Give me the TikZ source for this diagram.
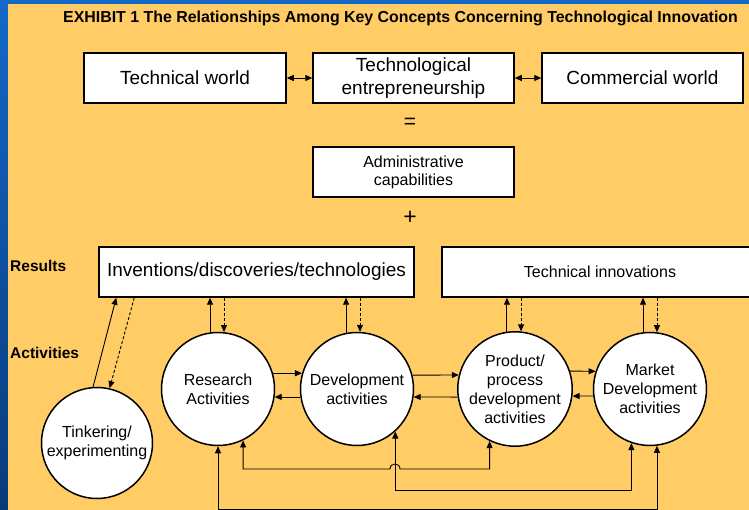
\documentclass[tikz,border=0pt]{standalone}
\usepackage{fontspec}
\setmainfont{Liberation Sans}
\usetikzlibrary{arrows.meta}
\definecolor{bgorange}{HTML}{FFCC66}
\definecolor{slidetop}{HTML}{1468C8}
\definecolor{slidebot}{HTML}{083A7A}
\tikzset{
  >={Triangle[length=7pt,width=6pt]},
  box/.style={draw, line width=1.5pt, fill=white, inner sep=0pt, align=center},
  circ/.style={circle, draw, line width=1.5pt, fill=white, inner sep=0pt, align=center,
    minimum size=113pt, font=\fontsize{16}{19}\selectfont},
  conn/.style={line width=0.9pt, black},
  dconn/.style={line width=0.9pt, black, dash pattern=on 3pt off 2pt},
  lbl/.style={font=\fontsize{15.5}{18}\selectfont\bfseries, anchor=base west, inner sep=0pt}
}
\begin{document}
\begin{tikzpicture}[x=1pt,y=-1pt]
\useasboundingbox (0,0) rectangle (749,510);
% background
\shade[top color=slidetop, bottom color=slidebot] (0,0) rectangle (749,510);
\fill[bgorange] (7.5,4) rectangle (749,510);

% title
\node[lbl, font=\fontsize{15.9}{18}\selectfont\bfseries] (title) at (63,23)
  {EXHIBIT 1 The Relationships Among Key Concepts Concerning Technological Innovation};

% top boxes
\node[box, minimum width=202pt, minimum height=50pt, font=\fontsize{19}{22}\selectfont] (tw) at (185,78) {Technical world};
\node[box, minimum width=201pt, minimum height=50pt, font=\fontsize{19}{22.5}\selectfont] (te) at (413.5,78) {Technological\\entrepreneurship};
\node[box, minimum width=201pt, minimum height=50pt, font=\fontsize{19}{22}\selectfont] (cw) at (642.5,78) {Commercial world};
\draw[conn,<->] (tw.east) -- (te.west);
\draw[conn,<->] (te.east) -- (cw.west);

\node[font=\fontsize{21}{21}\selectfont] (eq) at (410,123) {=};
\node[box, minimum width=201pt, minimum height=50pt, font=\fontsize{16}{18}\selectfont] (adm) at (413.5,172) {Administrative\\capabilities};
\node[font=\fontsize{23}{23}\selectfont] (plus) at (410,218) {+};

% row labels
\node[lbl] (res) at (10,272) {Results};
\node[lbl] (act) at (10,358) {Activities};

% result boxes
\node[box, minimum width=315pt, minimum height=50pt, font=\fontsize{19}{22}\selectfont] (inv) at (256.5,272) {Inventions/discoveries/technologies};
\node[box, minimum width=316pt, minimum height=50pt, font=\fontsize{16}{19}\selectfont] (ti) at (600,272) {Technical innovations};

% circles
\node[circ, minimum size=111pt] (tink) at (97,443) {Tinkering/\\experimenting};
\node[circ] (ra) at (218,389) {Research\\Activities};
\node[circ] (da) at (357,389) {Development\\activities};
\node[circ] (pa) at (515,389) {Product/\\process\\development\\activities};
\node[circ] (ma) at (650,389) {Market\\Development\\activities};

% tinkering to inventions
\draw[conn,->] (tink.94) -- ([xshift=18pt]inv.south west);
\draw[dconn,->] ([xshift=36pt]inv.south west) -- (tink.77);

% circles to result boxes
\draw[conn,->] (ra.98) -- (ra.98 |- inv.south);
\draw[dconn,->] (ra.84 |- inv.south) -- (ra.84);
\draw[conn,->] (da.101) -- (da.101 |- inv.south);
\draw[dconn,->] (da.87 |- inv.south) -- (da.87);
\draw[conn,->] (pa.98) -- (pa.98 |- ti.south);
\draw[dconn,->] (pa.84 |- ti.south) -- (pa.84);
\draw[conn,->] (ma.97) -- (ma.97 |- ti.south);
\draw[dconn,->] (ma.83 |- ti.south) -- (ma.83);

% horizontal arrows between circles
\draw[conn,->] (ra.16) -- (da.164);
\draw[conn,->] (da.188) -- (ra.-8);
\draw[conn,->] (da.14) -- (pa.166);
\draw[conn,->] (pa.188) -- (da.-8);
\draw[conn,->] (pa.18) -- (ma.162);
\draw[conn,->] (ma.187) -- (pa.-7);

% feedback lines at bottom
\coordinate (j1) at (390,469);
\coordinate (j2) at (400,469);
\coordinate (b2) at (0,490);
\coordinate (b3) at (0,509);
\draw[conn,<->] (ra.-64) |- (j1) .. controls (390,462.3) and (400,462.3) .. (j2) -| (pa.-116);
\draw[conn,<->] (da.-48) -- (da.-48 |- b2) -| (ma.-109);
\draw[conn,<->] (ra.south) -- (ra.south |- b3) -| (ma.-83);
\end{tikzpicture}
\end{document}
